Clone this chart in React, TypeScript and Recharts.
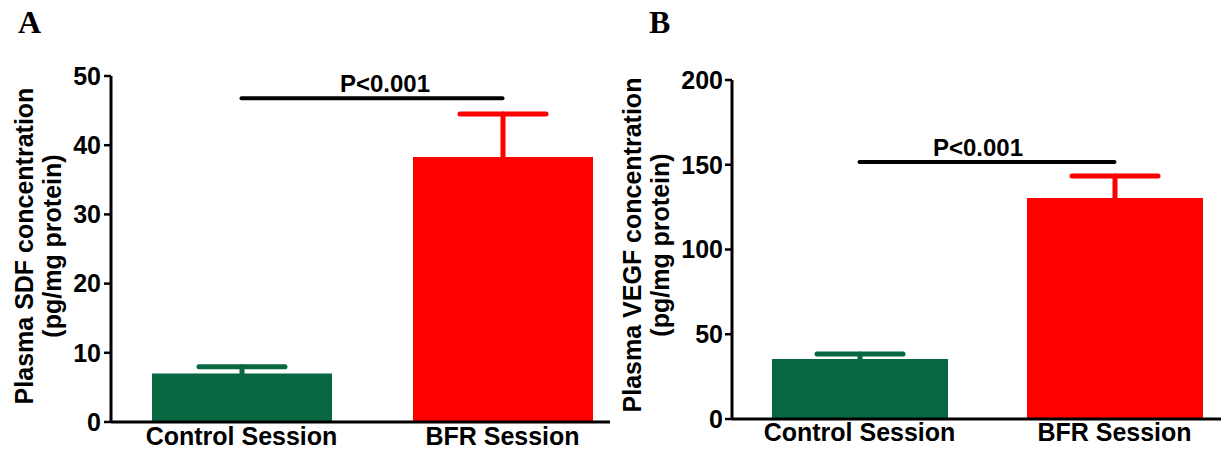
import { BarChart, Bar, XAxis, YAxis, ErrorBar, ReferenceLine, Cell } from "recharts";

const categories = ["Control Session", "BFR Session"];
const sdfMean = [7.0, 38.3];
const sdfSem = [1.0, 6.2];
const vegfMean = [35.4, 130.4];
const vegfSem = [3.0, 13.0];
const sdfTicks = [0, 10, 20, 30, 40, 50];
const vegfTicks = [0, 50, 100, 150, 200];
const sdfBracket = 46.8;
const vegfBracket = 151.6;
const pText = "P<0.001";
const barColors = ["#076842", "#ff0000"];

const FONT = "'Liberation Sans', Arial, sans-serif";

const rows = (mean: number[], sem: number[]) =>
  categories.map((name, i) => ({
    name,
    mean: mean[i],
    errC: i === 0 ? sem[i] : null,
    errB: i === 1 ? sem[i] : null,
  }));

type PanelProps = {
  data: ReturnType<typeof rows>;
  ticks: number[];
  bracket: number;
  labelLines: string[];
  labelX: number[];
  labelY: number;
  axisWidth: number;
  top: number;
  xAxisHeight: number;
  width: number;
  barSize: number;
  capHalf: number;
  tickMargin: number;
  xTickMargin: number;
  pDx: number;
};

function Panel(p: PanelProps) {
  const max = p.ticks[p.ticks.length - 1];
  return (
    <BarChart
      width={p.width}
      height={451}
      data={p.data}
      margin={{ top: p.top, right: 0, bottom: 0, left: 0 }}
      style={{ fontFamily: FONT }}
    >
      <XAxis
        dataKey="name"
        height={p.xAxisHeight}
        tickLine={false}
        tickSize={0}
        tickMargin={p.xTickMargin}
        axisLine={{ stroke: "#000", strokeWidth: 3 }}
        tick={{ fill: "#000", fontSize: 25, fontWeight: 700 }}
        interval={0}
      />
      <YAxis
        width={p.axisWidth}
        domain={[0, max]}
        ticks={p.ticks}
        allowDataOverflow
        tickSize={7}
        tickMargin={p.tickMargin}
        axisLine={{ stroke: "#000", strokeWidth: 3 }}
        tickLine={{ stroke: "#000", strokeWidth: 2.5 }}
        tick={{ fill: "#000", fontSize: 25, fontWeight: 700 }}
        label={{
          content: () => (
            <g>
              {p.labelLines.map((t, i) => (
                <text
                  key={t}
                  transform={`translate(${p.labelX[i]},${p.labelY}) rotate(-90)`}
                  textAnchor="middle"
                  dominantBaseline="central"
                  fontSize={25}
                  fontWeight={700}
                  fill="#000"
                  fontFamily={FONT}
                >
                  {t}
                </text>
              ))}
            </g>
          ),
        }}
      />
      <Bar dataKey="mean" barSize={p.barSize} isAnimationActive={false}>
        {p.data.map((d, i) => (
          <Cell key={d.name} fill={barColors[i]} />
        ))}
        <ErrorBar dataKey="errC" width={p.capHalf} strokeWidth={5} stroke={barColors[0]} strokeLinecap="round" isAnimationActive={false} />
        <ErrorBar dataKey="errB" width={p.capHalf} strokeWidth={5} stroke={barColors[1]} strokeLinecap="round" isAnimationActive={false} />
      </Bar>
      <ReferenceLine
        segment={[
          { x: categories[0], y: p.bracket },
          { x: categories[1], y: p.bracket },
        ]}
        stroke="#000"
        strokeWidth={4}
        strokeLinecap="round"
        label={{
          content: (props: any) => {
            const vb = props.viewBox || {};
            const cx = (vb.x ?? 0) + (vb.width ?? 0) / 2 + p.pDx;
            return (
              <text x={cx} y={(vb.y ?? 0) - 6} textAnchor="middle" fontSize={24} fontWeight={700} fill="#000" fontFamily={FONT}>
                {pText}
              </text>
            );
          },
        }}
      />
    </BarChart>
  );
}

export default function App() {
  return (
    <div style={{ position: "absolute", left: 0, top: 0, width: 1221, height: 451, overflow: "hidden", background: "#fff" }}>
      <div style={{ position: "absolute", left: 0, top: 0, width: 610, height: 451, overflow: "hidden" }}>
        <Panel
          data={rows(sdfMean, sdfSem)}
          ticks={sdfTicks}
          bracket={sdfBracket}
          labelLines={["Plasma SDF concentration", "(pg/mg protein)"]}
          labelX={[24, 52]}
          labelY={246}
          axisWidth={111}
          top={76}
          xAxisHeight={29}
          width={633}
          barSize={180}
          capHalf={43}
          tickMargin={3}
          xTickMargin={5}
          pDx={13}
        />
      </div>
      <div style={{ position: "absolute", left: 610, top: 0, width: 611, height: 451, overflow: "hidden" }}>
        <Panel
          data={rows(vegfMean, vegfSem)}
          ticks={vegfTicks}
          bracket={vegfBracket}
          labelLines={["Plasma VEGF concentration", "(pg/mg protein)"]}
          labelX={[22, 50]}
          labelY={245}
          axisWidth={122}
          top={80}
          xAxisHeight={32}
          width={632}
          barSize={176}
          capHalf={43}
          tickMargin={2}
          xTickMargin={4}
          pDx={-9}
        />
      </div>
      <svg width={1221} height={60} style={{ position: "absolute", left: 0, top: 0 }}>
        <text x={18} y={33} fontSize={32} fontWeight={700} fontFamily="'Liberation Serif', 'Times New Roman', serif" fill="#000">
          A
        </text>
        <text x={649} y={33} fontSize={32} fontWeight={700} fontFamily="'Liberation Serif', 'Times New Roman', serif" fill="#000">
          B
        </text>
      </svg>
    </div>
  );
}
